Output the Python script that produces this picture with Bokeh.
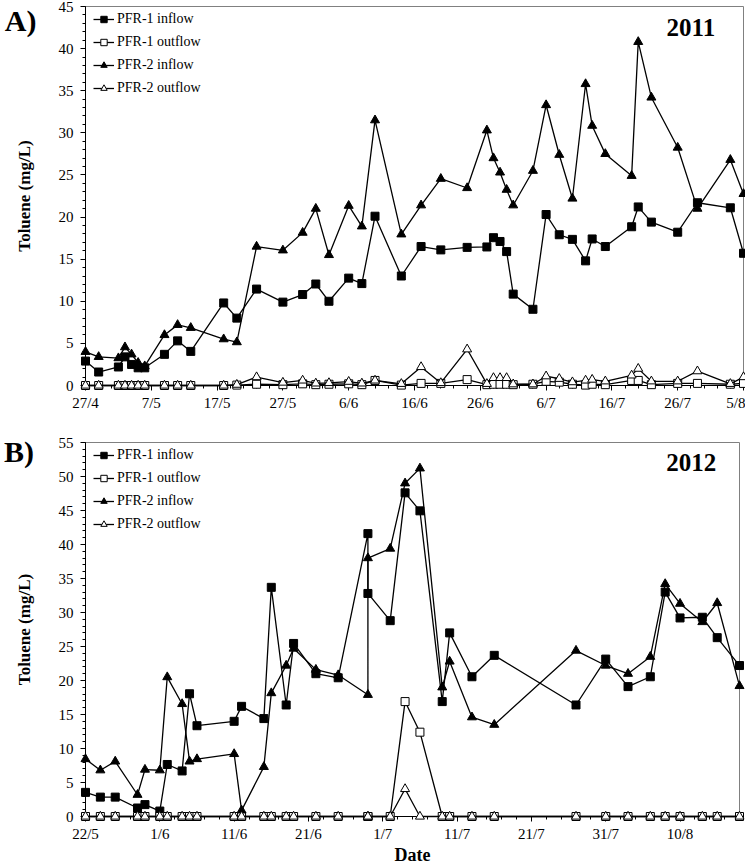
import datetime as dt
from bokeh.plotting import figure
from bokeh.models import FixedTicker, Label, Legend, LegendItem
from bokeh.core.properties import value
from bokeh.layouts import column
from bokeh.embed import file_html
from bokeh.resources import INLINE

FONT = "Liberation Serif"

# ---------------- 2011 data ----------------
year_a = 2011
dates_a = ["27/4", "29/4", "2/5", "3/5", "4/5", "5/5", "6/5", "9/5", "11/5", "13/5",
           "18/5", "20/5", "23/5", "27/5", "30/5", "1/6", "3/6", "6/6", "8/6", "10/6",
           "14/6", "17/6", "20/6", "24/6", "27/6", "28/6", "29/6", "30/6", "1/7", "4/7",
           "6/7", "8/7", "10/7", "12/7", "13/7", "15/7", "19/7", "20/7", "22/7", "26/7",
           "29/7", "3/8", "5/8"]
pfr1_in_a = [2.9, 1.6, 2.2, 3.4, 2.5, 2.1, 2.1, 3.7, 5.3, 4.05,
             9.8, 8.0, 11.45, 9.9, 10.8, 12.05, 10.0, 12.75, 12.1, 20.1,
             13.0, 16.5, 16.1, 16.4, 16.45, 17.55, 17.1, 15.9, 10.85, 9.05,
             20.3, 17.9, 17.35, 14.8, 17.4, 16.5, 18.85, 21.2, 19.4, 18.2,
             21.7, 21.1, 15.7]
pfr1_out_a = [0, 0, 0, 0, 0, 0, 0, 0, 0, 0,
              0, 0.05, 0.15, 0.1, 0.2, 0.1, 0.15, 0.2, 0.1, 0.6,
              0.05, 0.25, 0.25, 0.7, 0.1, 0.15, 0.15, 0.15, 0.1, 0.15,
              0.5, 0.4, 0.15, 0.05, 0.15, 0.1, 0.6, 0.6, 0.1, 0.25,
              0.25, 0.15, 0.25]
pfr2_in_a = [4.0, 3.4, 3.25, 4.55, 3.7, 2.7, 2.3, 6.0, 7.2, 6.85,
             5.5, 5.15, 16.5, 16.05, 18.15, 21.0, 15.5, 21.35, 18.9, 31.5,
             17.95, 21.4, 24.55, 23.45, 30.3, 27.0, 25.3, 23.25, 21.4, 25.5,
             33.3, 27.4, 22.2, 35.8, 30.85, 27.5, 24.9, 40.8, 34.2, 28.25,
             21.0, 26.8, 22.75]
pfr2_out_a = [0, 0, 0, 0, 0, 0, 0, 0, 0, 0,
              0, 0.1, 1.0, 0.35, 0.6, 0.25, 0.3, 0.45, 0.25, 0.6,
              0.2, 2.2, 0.3, 4.3, 0.2, 0.9, 0.9, 0.9, 0.15, 0.15,
              1.1, 0.8, 0.4, 0.6, 0.7, 0.5, 1.2, 2.0, 0.5, 0.5,
              1.7, 0.2, 1.0]
ticks_a = ["27/4", "7/5", "17/5", "27/5", "6/6", "16/6", "26/6", "6/7", "16/7", "26/7", "5/8"]
end_a = "5/8"

# ---------------- 2012 data ----------------
year_b = 2012
dates_b = ["22/5", "24/5", "26/5", "29/5", "30/5", "1/6", "2/6", "4/6", "5/6", "6/6",
           "11/6", "12/6", "15/6", "16/6", "18/6", "19/6", "22/6", "25/6", "29/6", "29/6",
           "2/7", "4/7", "6/7", "9/7", "10/7", "13/7", "16/7", "27/7", "31/7", "3/8",
           "6/8", "8/8", "10/8", "13/8", "15/8", "18/8"]
pfr1_in_b = [3.55, 2.85, 2.85, 1.25, 1.75, 0.8, 7.65, 6.7, 18.05, 13.35,
             14.0, 16.2, 14.4, 33.7, 16.4, 25.45, 21.0, 20.4, 41.6, 32.8,
             28.8, 47.6, 44.95, 16.9, 27.0, 20.55, 23.7, 16.4, 23.15, 19.1,
             20.55, 33.0, 29.2, 29.3, 26.3, 22.2]
pfr1_out_b = [0, 0, 0, 0, 0, 0, 0, 0, 0, 0,
              0, 0, 0, 0, 0, 0, 0, 0, 0, 0,
              0, 16.9, 12.4, 0, 0, 0, 0, 0, 0, 0,
              0, 0, 0, 0, 0, 0]
pfr2_in_b = [8.45, 6.8, 8.1, 3.2, 6.9, 6.8, 20.5, 16.55, 8.1, 8.45,
             9.2, 0.9, 7.3, 18.15, 22.2, 24.7, 21.6, 20.8, 17.9, 38.0,
             39.4, 49.0, 51.2, 19.0, 22.8, 14.6, 13.5, 24.4, 22.2, 21.0,
             23.5, 34.2, 31.3, 28.6, 31.4, 19.2]
pfr2_out_b = [0, 0, 0, 0, 0, 0, 0, 0, 0, 0,
              0, 0, 0, 0, 0, 0, 0, 0, 0, 0,
              0, 4.05, 0, 0, 0, 0, 0, 0, 0, 0,
              0, 0, 0, 0, 0, 0]
ticks_b = ["22/5", "1/6", "11/6", "21/6", "1/7", "11/7", "21/7", "31/7", "10/8"]
end_b = "18/8"

series_names = ["PFR-1 inflow", "PFR-1 outflow", "PFR-2 inflow", "PFR-2 outflow"]


def parse(lbl, year):
    d, m = lbl.split("/")
    return dt.date(year, int(m), int(d))


def offsets(labels, year, start):
    s = parse(start, year)
    return [(parse(l, year) - s).days for l in labels]


STYLES = [("square", "black", 8), ("square", "white", 8),
          ("triangle", "black", 9), ("triangle", "white", 9)]


def make_panel(year, dates, ticks, end, values, ymax, frame_w, frame_h, top, left, right,
               xlabel, panel_txt, panel_off, year_xy):
    x = offsets(dates, year, ticks[0])
    tick_x = offsets(ticks, year, ticks[0])
    xend = offsets([end], year, ticks[0])[0]
    p = figure(frame_width=frame_w, frame_height=frame_h, x_range=(0, xend), y_range=(0, ymax),
               output_backend="svg", toolbar_location=None,
               min_border_left=left, min_border_right=right, min_border_top=top,
               min_border_bottom=0)
    p.xgrid.visible = False
    p.ygrid.visible = False
    p.outline_line_color = "#808080"
    p.outline_line_width = 1

    items = []
    for name, vals, (mk, fill, sz) in zip(series_names, values, STYLES):
        lr = p.line(x, vals, line_color="black", line_width=1.3, level="overlay")
        sr = p.scatter(x, vals, marker=mk, size=sz, fill_color=fill, line_color="black",
                       line_width=1, level="overlay")
        items.append(LegendItem(label=name, renderers=[lr, sr]))

    legend = Legend(items=items, location=(6, frame_h - 93), padding=2, margin=0,
                    spacing=5, label_height=18, glyph_height=16, glyph_width=21,
                    label_standoff=3, border_line_alpha=0, background_fill_alpha=0,
                    label_text_font=FONT, label_text_font_size="14px",
                    label_text_color="black")
    p.add_layout(legend)

    xa = p.xaxis[0]
    ya = p.yaxis[0]
    xa.ticker = FixedTicker(ticks=tick_x, minor_ticks=list(range(0, xend + 1, 2)))
    xa.major_label_overrides = {t: l for t, l in zip(tick_x, ticks)}
    ya.ticker = FixedTicker(ticks=list(range(0, ymax + 1, 5)),
                            minor_ticks=list(range(0, ymax + 1)))
    for ax in (xa, ya):
        ax.axis_line_color = "black"
        ax.axis_line_width = 1
        ax.major_tick_line_color = "black"
        ax.minor_tick_line_color = "black"
        ax.major_tick_out = 5
        ax.major_tick_in = 0
        ax.minor_tick_out = 3
        ax.minor_tick_in = 0
        ax.major_label_text_font = FONT
        ax.major_label_text_font_size = "15px"
        ax.major_label_text_color = "black"
        ax.axis_label_text_font = FONT
        ax.axis_label_text_font_style = "bold"
        ax.axis_label_text_color = "black"
    ya.axis_label = "Toluene (mg/L)"
    ya.axis_label_text_font_size = "17px"
    ya.axis_label_standoff = 22
    ya.major_label_standoff = 7
    xa.major_label_standoff = 4
    if xlabel:
        xa.axis_label = xlabel
        xa.axis_label_text_font_size = "18px"
        xa.axis_label_standoff = 0

    # panel letter, drawn as an unclipped text glyph anchored at the top-left data corner
    p.text(x=[0.2], y=[ymax - 1], text=[panel_txt], x_offset=panel_off[0], y_offset=panel_off[1],
           text_font=value(FONT), text_font_size="30px", text_font_style="bold",
           text_color="black", text_align="left", text_baseline="middle", level="overlay")
    p.add_layout(Label(x=year_xy[0], y=year_xy[1], text=str(year), text_font=FONT,
                       text_font_size="25px", text_font_style="bold", text_color="black",
                       text_align="center", text_baseline="middle"))
    return p


pa = make_panel(year_a, dates_a, ticks_a, end_a,
                [pfr1_in_a, pfr1_out_a, pfr2_in_a, pfr2_out_a],
                45, 658, 379, 6, 83, 4, None, "A)", (-82, 6), (92.0, 42.5))
pb = make_panel(year_b, dates_b, ticks_b, end_b,
                [pfr1_in_b, pfr1_out_b, pfr2_in_b, pfr2_out_b],
                55, 654, 374, 29, 85, 6, "Date", "B)", (-83, 2), (81.5, 52.0))

layout = column(pa, pb, spacing=0)
open("out.html", "w").write(file_html(layout, INLINE))
